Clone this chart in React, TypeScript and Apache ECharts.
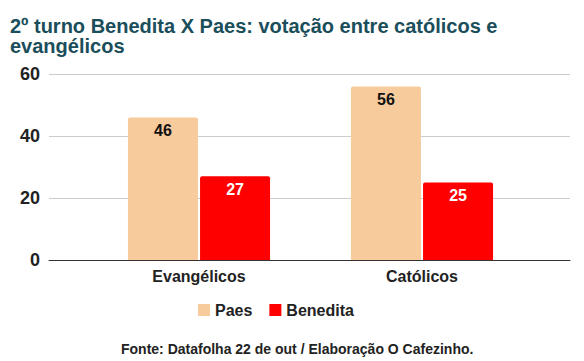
import React, { useEffect, useRef } from "react";
import * as echarts from "echarts";

const categories = ["Evangélicos", "Católicos"];
const paes = [46, 56];
const benedita = [27, 25];
const yTicks = [0, 20, 40, 60];

const FONT = "'Liberation Sans', Arial, sans-serif";

export default function App() {
  const ref = useRef<HTMLDivElement>(null);
  useEffect(() => {
    if (!ref.current) return;
    const chart = echarts.init(ref.current, null, { renderer: "svg" });
    chart.setOption({
      animation: false,
      backgroundColor: "#ffffff",
      textStyle: { fontFamily: FONT },
      title: [
        {
          text: "2º turno Benedita X Paes: votação entre católicos e\nevangélicos",
          left: 5,
          top: 11,
          textStyle: { fontSize: 20, fontWeight: "bold", color: "#1b4e5b", lineHeight: 20, fontFamily: FONT },
        },
        {
          text: "Fonte: Datafolha 22 de out / Elaboração O Cafezinho.",
          left: 116,
          top: 337,
          textStyle: { fontSize: 14, fontWeight: "bold", color: "#222222", fontFamily: FONT },
        },
      ],
      legend: {
        data: ["Paes", "Benedita"],
        top: 297,
        left: 193,
        icon: "rect",
        itemWidth: 12,
        itemHeight: 12,
        itemGap: 17,
        textStyle: { fontSize: 16, fontWeight: "bold", color: "#222222", fontFamily: FONT },
      },
      grid: [
        { left: 49, right: 14, top: 74, bottom: 101 },
        { left: 87.5, right: 50.5, top: 74, bottom: 101 },
      ],
      xAxis: [
        {
          type: "category",
          gridIndex: 0,
          data: categories,
          axisLine: { show: true, lineStyle: { color: "#333333", width: 1 } },
          axisTick: { show: false },
          axisLabel: { show: false },
        },
        {
          type: "category",
          gridIndex: 1,
          data: categories,
          axisLine: { show: false },
          axisTick: { show: false },
          axisLabel: { fontSize: 16, fontWeight: "bold", color: "#222222", margin: 8, fontFamily: FONT },
        },
      ],
      yAxis: [
        {
          type: "value",
          gridIndex: 0,
          min: yTicks[0],
          max: yTicks[yTicks.length - 1],
          interval: 20,
          axisLine: { show: false },
          axisTick: { show: false },
          axisLabel: { fontSize: 18, fontWeight: "bold", color: "#222222", margin: 9, fontFamily: FONT },
          splitLine: { lineStyle: { color: "#cccccc", width: 1 } },
        },
        {
          type: "value",
          gridIndex: 1,
          min: yTicks[0],
          max: yTicks[yTicks.length - 1],
          interval: 20,
          show: false,
          splitLine: { show: false },
        },
      ],
      series: [
        {
          name: "Paes",
          type: "bar",
          xAxisIndex: 1,
          yAxisIndex: 1,
          data: paes,
          barWidth: 70,
          barGap: "3%",
          itemStyle: { color: "#f8cb9c", borderRadius: [2, 2, 0, 0] },
          label: {
            show: true,
            position: "insideTop",
            distance: 5,
            fontSize: 16,
            fontWeight: "bold",
            color: "#111111",
            fontFamily: FONT,
          },
        },
        {
          name: "Benedita",
          type: "bar",
          xAxisIndex: 1,
          yAxisIndex: 1,
          data: benedita,
          barWidth: 70,
          barGap: "3%",
          itemStyle: { color: "#ff0000", borderRadius: [2, 2, 0, 0] },
          label: {
            show: true,
            position: "insideTop",
            distance: 5,
            fontSize: 16,
            fontWeight: "bold",
            color: "#ffffff",
            fontFamily: FONT,
          },
        },
      ],
    });
    return () => chart.dispose();
  }, []);
  return <div ref={ref} style={{ width: 584, height: 361, position: "absolute", left: 0, top: 0 }} />;
}
